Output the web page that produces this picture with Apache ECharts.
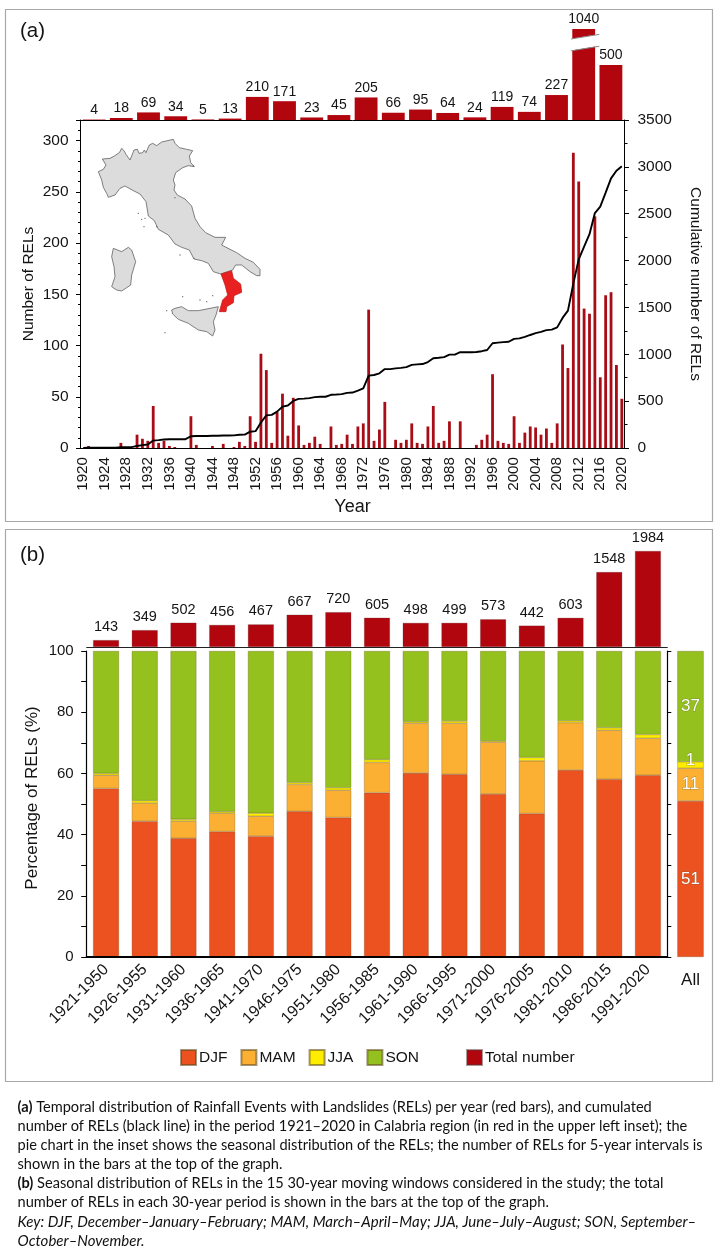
<!DOCTYPE html>
<html>
<head>
<meta charset="utf-8">
<style>html,body{margin:0;padding:0;background:#fff}#c{width:720px;height:1250px}</style>
<script src="https://cdn.jsdelivr.net/npm/echarts@6/dist/echarts.min.js"></script>
</head>
<body>
<div id="c"></div>
<script>
const years = [];
for (let y = 1920; y <= 2020; y++) years.push(String(y));
const relsPerYear = [0,
  2,1,0,1,0,0,5,0,0,13,
  9,7,41,5,7,2,1,0,0,31,
  3,0,0,2,0,4,0,1,6,2,
  31,6,92,76,5,35,53,12,49,22,
  3,5,11,4,0,21,3,4,13,4,
  21,24,135,7,18,45,0,8,5,8,
  24,5,4,21,41,5,7,26,0,26,
  0,0,3,8,13,72,7,5,4,31,
  5,15,21,20,13,19,5,24,101,78,
  288,260,136,131,226,69,149,152,81,48];
const cumulativeRels = [0,
  2,3,3,4,4,4,9,9,9,22,
  31,38,79,84,91,93,94,94,94,125,
  128,128,128,130,130,134,134,135,141,143,
  174,180,272,348,353,388,441,453,502,524,
  527,532,543,547,547,568,571,575,588,592,
  613,637,772,779,797,842,842,850,855,863,
  887,892,896,917,958,963,970,996,996,1022,
  1022,1022,1025,1033,1046,1118,1125,1130,1134,1165,
  1170,1185,1206,1226,1239,1258,1263,1287,1388,1466,
  1754,2014,2150,2281,2507,2576,2725,2877,2958,3006];
const fiveYearBins = ['1921-25','1926-30','1931-35','1936-40','1941-45','1946-50','1951-55','1956-60','1961-65','1966-70','1971-75','1976-80','1981-85','1986-90','1991-95','1996-00','2001-05','2006-10','2011-15','2016-20'];
const fiveYearTotals = [4,18,69,34,5,13,210,171,23,45,205,66,95,64,24,119,74,227,1040,500];

const windows = ['1921-1950','1926-1955','1931-1960','1936-1965','1941-1970','1946-1975','1951-1980','1956-1985','1961-1990','1966-1995','1971-2000','1976-2005','1981-2010','1986-2015','1991-2020'];
const windowTotals = [143,349,502,456,467,667,720,605,498,499,573,442,603,1548,1984];
const djf = [55.1,44.4,38.8,41.0,39.5,47.6,45.6,53.7,60.1,59.7,53.3,46.9,61.1,58.1,59.4];
const mam = [4.3,5.9,5.6,6.0,6.5,8.8,8.9,9.9,16.3,16.7,16.9,17.2,15.5,16.0,12.1];
const jja = [0.6,0.8,0.6,0.5,1.0,0.6,0.8,0.9,0.5,0.7,0.4,1.1,0.6,0.8,1.2];
const son = [40.0,48.9,55.0,52.5,53.0,43.0,44.7,35.5,23.1,22.9,29.4,34.8,22.8,25.1,27.3];
const allValues = {DJF: 51, MAM: 10.7, JJA: 2.1, SON: 36.2};
const allLabels = {DJF: '51', MAM: '11', JJA: '1', SON: '37'};

const colors = {DJF:'#ec5120', MAM:'#fbb034', JJA:'#ffed00', SON:'#95c11f', total:'#b2060f', year:'#a80c16'};
const FONT = '"Liberation Sans", Arial, sans-serif';
const TXT = '#141414';

const italy = [[127,87],[150,85],[163,78],[178,68],[185,55],[192,62],[198,73],[210,90],[215,78],[222,60],[232,58],[237,70],[248,68],[253,60],[258,68],[268,45],[278,40],[290,47],[305,36],[340,28],[345,40],[358,53],[380,58],[398,62],[388,78],[392,98],[403,110],[385,107],[368,113],[347,128],[340,150],[345,165],[342,180],[352,195],[375,207],[395,228],[405,265],[420,290],[437,308],[465,322],[497,322],[492,332],[485,345],[510,358],[530,368],[555,385],[580,397],[600,418],[600,437],[590,437],[570,425],[545,405],[527,405],[518,420],[482,432],[460,425],[445,400],[425,392],[402,387],[388,360],[365,352],[345,342],[325,315],[295,298],[283,272],[265,258],[258,215],[240,192],[220,182],[195,168],[180,175],[165,195],[145,202],[140,190],[130,172],[125,150],[115,125],[130,118],[138,105]];
const calabria = [[483,432],[515,422],[520,445],[542,462],[545,487],[522,497],[520,518],[500,530],[498,545],[478,545],[488,510],[503,495],[495,465]];
const sicily = [[335,540],[345,535],[365,530],[385,542],[415,542],[450,535],[475,530],[468,555],[460,575],[465,600],[458,618],[440,605],[415,600],[385,580],[355,568],[338,552]];
const sardinia = [[160,355],[185,365],[205,352],[215,360],[227,395],[215,435],[212,465],[185,483],[170,480],[155,470],[165,440],[162,410],[155,380]];
const islets = [[235,250],[245,268],[255,265],[252,290],[290,290],[360,375],[368,500],[420,510],[440,515],[458,497],[315,608],[402,385],[400,108],[345,203],[320,542]];

const caption = [
  ['{b|(a)} Temporal distribution of Rainfall Events with Landslides (RELs) per year (red bars), and cumulated', 1107, false],
  ['number of RELs (black line) in the period 1921–2020 in Calabria region (in red in the upper left inset); the', 1126, false],
  ['pie chart in the inset shows the seasonal distribution of the RELs; the number of RELs for 5-year intervals is', 1145, false],
  ['shown in the bars at the top of the graph.', 1164, false],
  ['{b|(b)} Seasonal distribution of RELs in the 15 30-year moving windows considered in the study; the total', 1183, false],
  ['number of RELs in each 30-year period is shown in the bars at the top of the graph.', 1202, false],
  ['Key: DJF, December–January–February; MAM, March–April–May; JJA, June–July–August; SON, September–', 1222, true],
  ['October–November.', 1241, true]
];

const L = {a:80.5, b:86.7};

const chart = echarts.init(document.getElementById('c'), null, {renderer:'canvas'});

function poly(points, fill){
  return {type:'polygon', shape:{points}, style:{fill, stroke:fill==='#e8201f'?'#c01818':'#555', lineWidth:2.2}};
}
const graphic = [
  {type:'rect', shape:{x:5.5,y:9.5,width:707,height:512}, style:{fill:'none',stroke:'#a8a8a8',lineWidth:1.2}, z:0, silent:true},
  {type:'rect', shape:{x:5.5,y:529.5,width:707,height:552}, style:{fill:'none',stroke:'#a8a8a8',lineWidth:1.2}, z:0, silent:true},
  {type:'text', x:20, y:31, style:{text:'(a)', font:'20.5px '+FONT, fill:TXT, textVerticalAlign:'middle'}},
  {type:'text', x:20, y:555, style:{text:'(b)', font:'20.5px '+FONT, fill:TXT, textVerticalAlign:'middle'}},
  {type:'text', x:32, y:798, rotation:Math.PI/2, style:{text:'Percentage of RELs (%)', font:'17px '+FONT, fill:TXT, textAlign:'center', textVerticalAlign:'middle'}},
  {type:'group', x:60, y:130, scaleX:1/3, scaleY:1/3, children:[
    poly(italy,'#dcdcdc'), poly(sicily,'#dcdcdc'), poly(sardinia,'#dcdcdc'), poly(calabria,'#e8201f')
  ].concat(islets.map(p=>({type:'circle', shape:{cx:p[0],cy:p[1],r:2}, style:{fill:'#666'}})))}
].concat(caption.map(c=>({
  type:'text', x:17.5, y:c[1],
  style:{text:c[0], font:(c[2]?'italic 15px':'14.6px')+' Lato', fill:'#111', textVerticalAlign:'middle',
    rich:{b:{font:'bold 14.6px Lato', fill:'#111'}}}
})));

function stackSeries(name, data, xIdx, yIdx, barWidth, label){
  return {name, type:'bar', stack:'s'+xIdx, data, xAxisIndex:xIdx, yAxisIndex:yIdx, barWidth,
    itemStyle:{color:colors[name], borderColor:'rgba(90,70,20,0.55)', borderWidth:0.5},
    label: label ? {show:true, position:'inside', formatter:label, color:'#fff', fontFamily:FONT, fontSize:17,
      textBorderColor:'rgba(90,90,60,0.45)', textBorderWidth:1,
      offset: name==='JJA'?[0,-5]:[0,0]} : {show:false}, emphasis:{disabled:true}};
}

chart.setOption({
  animation:false,
  textStyle:{fontFamily:FONT, color:TXT},
  graphic,
  grid:[
    {left:L.a, width:544, top:120, height:328},
    {left:L.a, width:544, top:29, height:91},
    {left:L.b, width:580.6, top:651, height:306},
    {left:L.b, width:580.6, top:551, height:96},
    {left:671, width:39, top:651, height:306}
  ],
  legend:[
    {left:175, top:1044, itemWidth:15, itemHeight:15, itemGap:13, icon:'rect', data:['DJF','MAM','JJA','SON'], selectedMode:false,
     textStyle:{fontFamily:FONT, fontSize:15.5, color:TXT, padding:[0,0,0,-2]}},
    {left:461, top:1044, itemWidth:15, itemHeight:15, icon:'rect', data:['Total number'], selectedMode:false,
     textStyle:{fontFamily:FONT, fontSize:15.5, color:TXT, padding:[0,0,0,-2]}}
  ],
  xAxis:[
    {gridIndex:0, type:'category', data:years, name:'Year', nameLocation:'middle', nameGap:50,
     nameTextStyle:{fontSize:18, color:TXT},
     axisLine:{lineStyle:{color:'#000',width:1}},
     axisTick:{interval:0, length:4, lineStyle:{color:'#000'}},
     axisLabel:{interval:3, rotate:90, fontSize:15.2, color:TXT, margin:9}, z:5},
    {gridIndex:1, type:'category', data:fiveYearBins,
     axisLine:{lineStyle:{color:'#000',width:1}},
     axisTick:{interval:0, inside:true, length:3, lineStyle:{color:'#000'}},
     axisLabel:{show:false}, z:5},
    {gridIndex:2, type:'category', data:windows,
     axisLine:{lineStyle:{color:'#000',width:1.5}},
     axisTick:{interval:0, length:4, lineStyle:{color:'#000'}},
     axisLabel:{interval:0, rotate:45, fontSize:16, color:TXT, margin:10}, z:5},
    {gridIndex:2, type:'category', data:windows, position:'top', axisLine:{lineStyle:{color:'#000',width:2}}, axisTick:{show:false}, axisLabel:{show:false}, z:5},
    {gridIndex:3, type:'category', data:windows,
     axisLine:{lineStyle:{color:'#222',width:1}},
     axisTick:{interval:0, inside:true, length:1, lineStyle:{color:'#222'}},
     axisLabel:{show:false}, z:5},
    {gridIndex:4, type:'category', data:['All'], axisLine:{show:false}, axisTick:{show:false},
     axisLabel:{fontSize:17, color:TXT, margin:15}}
  ],
  yAxis:[
    {gridIndex:0, type:'value', min:0, max:320, interval:50, name:'Number of RELs', nameLocation:'middle', nameGap:44, nameMoveOverlap:false,
     nameTextStyle:{fontSize:15.5, color:TXT},
     axisLine:{show:true, lineStyle:{color:'#000'}}, axisTick:{show:true, length:4.5, lineStyle:{color:'#000'}},
     minorTick:{show:true, splitNumber:5, length:2.5, lineStyle:{color:'#000'}},
     axisLabel:{fontSize:15.5, color:TXT, margin:12, showMaxLabel:false}, splitLine:{show:false}, minorSplitLine:{show:false}},
    {gridIndex:0, type:'value', min:0, max:3500, interval:500, position:'right', name:'Cumulative number of RELs', nameLocation:'middle', nameGap:63, nameRotate:-90, nameMoveOverlap:false,
     nameTextStyle:{fontSize:15.5, color:TXT},
     axisLine:{show:true, lineStyle:{color:'#000'}}, axisTick:{show:true, length:4.5, lineStyle:{color:'#000'}},
     minorTick:{show:true, splitNumber:2, length:3, lineStyle:{color:'#000'}},
     axisLabel:{fontSize:15.5, color:TXT, margin:13, formatter:v=>String(v)}, splitLine:{show:false}},
    {gridIndex:1, type:'value', min:0, max:1040, show:false, splitLine:{show:false},
     breaks:[{start:650, end:970, gap:'13%'}], breakArea:{show:false}},
    {gridIndex:2, type:'value', min:0, max:100, interval:10,
     axisLine:{show:true, lineStyle:{color:'#000',width:1.2}}, axisTick:{show:true, length:5.5, lineStyle:{color:'#000'}},
     axisLabel:{fontSize:15, color:TXT, margin:13, formatter:v=>v%20===0?String(v):''}, splitLine:{show:false}},
    {gridIndex:2, type:'value', min:0, max:100, interval:10, position:'right',
     axisLine:{show:true, lineStyle:{color:'#000',width:1.2}}, axisTick:{show:true, length:4, lineStyle:{color:'#000'}},
     axisLabel:{show:false}, splitLine:{show:false}},
    {gridIndex:3, type:'value', min:0, max:1984, show:false, splitLine:{show:false}},
    {gridIndex:4, type:'value', min:0, max:100, show:false, splitLine:{show:false}}
  ],
  series:[
    {name:'RELs per year', type:'bar', data:relsPerYear, xAxisIndex:0, yAxisIndex:0, barWidth:2.8,
     itemStyle:{color:colors.year}, z:2},
    {name:'Cumulative', type:'line', data:cumulativeRels, xAxisIndex:0, yAxisIndex:1, symbol:'none',
     lineStyle:{color:'#000', width:1.9}, z:3},
    {name:'5-year', type:'bar', data:fiveYearTotals, xAxisIndex:1, yAxisIndex:2, barWidth:'84%',
     itemStyle:{color:colors.total},
     label:{show:true, position:'top', distance:2.5, fontSize:14, color:TXT, fontFamily:FONT}},
    {type:'custom', xAxisIndex:1, yAxisIndex:2, data:[[18, 650, 970]], z:4, silent:true,
     encode:{x:0, y:[1,2]},
     renderItem(params, api){
       const lo = api.coord([api.value(0), api.value(1)]);
       const hi = api.coord([api.value(0), api.value(2)]);
       const w = api.size([1,0])[0];
       const x0 = lo[0]-w/2, x1 = lo[0]+w/2, s = 2.3;
       return {type:'group', children:[
         {type:'polygon', shape:{points:[[x0,lo[1]+s],[x1,lo[1]-s],[x1,hi[1]-s],[x0,hi[1]+s]]}, style:{fill:'#fff'}},
         {type:'line', shape:{x1:x0+1,y1:lo[1]+s,x2:x1+2,y2:lo[1]-s}, style:{stroke:'#888',lineWidth:1}},
         {type:'line', shape:{x1:x0+1,y1:hi[1]+s,x2:x1+2,y2:hi[1]-s}, style:{stroke:'#888',lineWidth:1}}
       ]};
     }},
    stackSeries('DJF', djf, 2, 3, '67%'),
    stackSeries('MAM', mam, 2, 3, '67%'),
    stackSeries('JJA', jja, 2, 3, '67%'),
    stackSeries('SON', son, 2, 3, '67%'),
    {name:'Total number', type:'bar', data:windowTotals, xAxisIndex:4, yAxisIndex:5, barWidth:'67%',
     itemStyle:{color:colors.total, borderColor:'rgba(90,50,50,0.5)', borderWidth:0.5},
     label:{show:true, position:'top', distance:5.5, fontSize:14.5, color:TXT, fontFamily:FONT}},
    stackSeries('DJF', [allValues.DJF], 5, 6, 26.4, allLabels.DJF),
    stackSeries('MAM', [allValues.MAM], 5, 6, 26.4, allLabels.MAM),
    stackSeries('JJA', [allValues.JJA], 5, 6, 26.4, allLabels.JJA),
    stackSeries('SON', [allValues.SON], 5, 6, 26.4, allLabels.SON)
  ]
});
</script>
</body>
</html>
